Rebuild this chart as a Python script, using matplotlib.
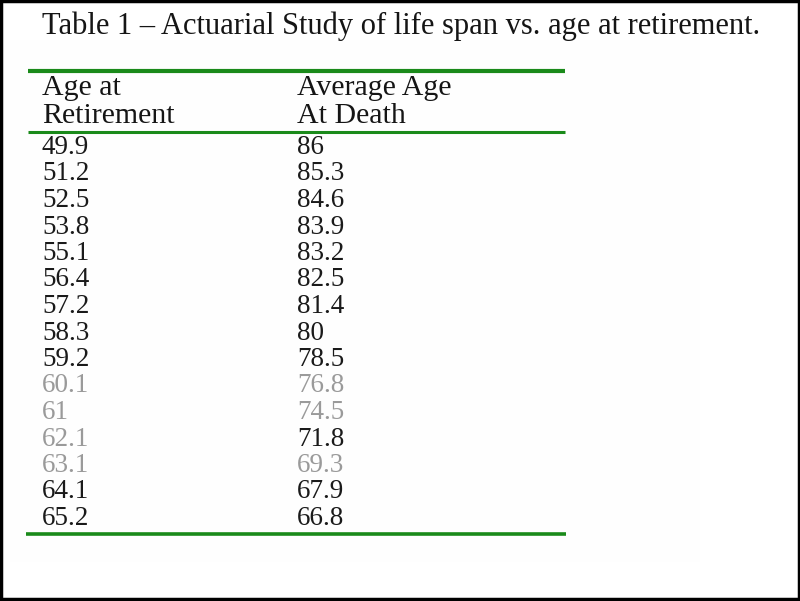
import matplotlib
matplotlib.use("Agg")
import matplotlib.pyplot as plt
from matplotlib.patches import Rectangle

title = "Table 1 \u2013 Actuarial Study of life span vs. age at retirement."
headers = [["Age at", "Retirement"], ["Average Age", "At Death"]]
retirement_age = ["49.9", "51.2", "52.5", "53.8", "55.1", "56.4", "57.2", "58.3",
                  "59.2", "60.1", "61", "62.1", "63.1", "64.1", "65.2"]
death_age = ["86", "85.3", "84.6", "83.9", "83.2", "82.5", "81.4", "80",
             "78.5", "76.8", "74.5", "71.8", "69.3", "67.9", "66.8"]
gray_left = {"60.1", "61", "62.1", "63.1"}
gray_right = {"76.8", "74.5", "69.3"}

W, H = 800, 601
fig = plt.figure(figsize=(W / 100, H / 100), dpi=100)
ax = fig.add_axes([0, 0, 1, 1])
ax.set_xlim(0, W)
ax.set_ylim(H, 0)
ax.axis("off")

serif = ["Liberation Serif", "DejaVu Serif"]
green = "#1a8a1a"

# very faint background block
ax.add_patch(Rectangle((10, 40), 690, 522, facecolor="#fefefe", edgecolor="none", zorder=0))

ax.text(42, 26, title, fontsize=22.0, family=serif, va="center", ha="left", color="#151515")

# rules
ax.plot([28, 565], [70.5, 70.5], color=green, lw=3.0, solid_capstyle="butt")
ax.plot([28, 565], [131.5, 131.5], color=green, lw=2.2, solid_capstyle="butt")
ax.plot([26, 566], [533.5, 533.5], color=green, lw=2.6, solid_capstyle="butt")

col_x = [42, 297]
for cx, hdr in zip(col_x, headers):
    for j, line in enumerate(hdr):
        ax.text(cx, 88 + j * 28, line, fontsize=21.5, family=serif, va="center", ha="left",
                color="#151515")

y0, dy = 147.5, 26.5
for i, (a, d) in enumerate(zip(retirement_age, death_age)):
    y = y0 + i * dy
    ca = "#9a9a9a" if a in gray_left else "#1a1a1a"
    cd = "#9a9a9a" if d in gray_right else "#1a1a1a"
    ax.text(col_x[0], y, a, fontsize=19.5, family=serif, va="center", ha="left", color=ca)
    ax.text(col_x[1], y, d, fontsize=19.5, family=serif, va="center", ha="left", color=cd)

# outer black frame
ax.add_patch(Rectangle((0.5, 0.5), W - 2, H - 2.5, facecolor="none", edgecolor="black",
                       lw=2.5, zorder=5))

fig.savefig("out.png", dpi=100)
